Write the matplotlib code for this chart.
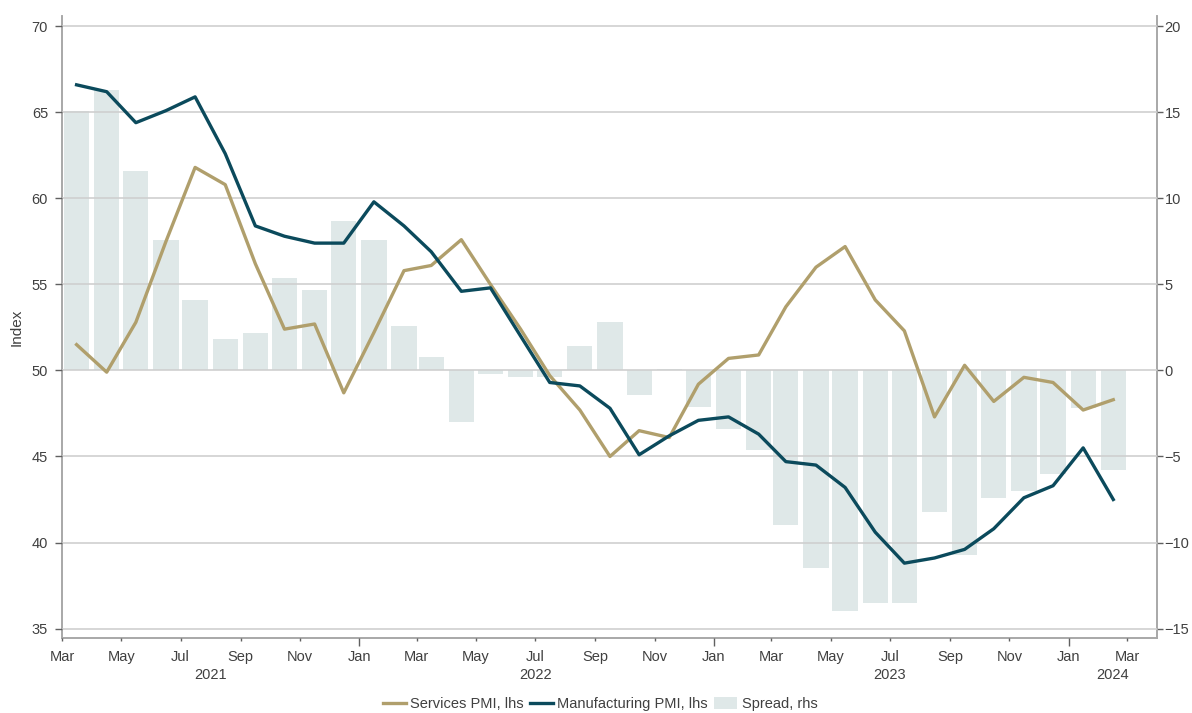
import pandas as pd
import numpy as np
import matplotlib
matplotlib.use("Agg")
import matplotlib.pyplot as plt
import matplotlib.dates as mdates
import matplotlib.transforms as mtransforms

plt.rcParams['font.family'] = ['Liberation Sans', 'DejaVu Sans']

# === DATA (monthly, Mar 2021 - Feb 2024) ===
months = pd.date_range("2021-03-01", "2024-02-01", freq="MS")

services_pmi = [51.5, 49.9, 52.8, 57.5, 61.8, 60.8, 56.2, 52.4, 52.7, 48.7,
                52.2, 55.8, 56.1, 57.6, 55.0, 52.4, 49.7, 47.7, 45.0, 46.5,
                46.1, 49.2, 50.7, 50.9, 53.7, 56.0, 57.2, 54.1, 52.3, 47.3,
                50.3, 48.2, 49.6, 49.3, 47.7, 48.3]

manufacturing_pmi = [66.6, 66.2, 64.4, 65.1, 65.9, 62.6, 58.4, 57.8, 57.4, 57.4,
                     59.8, 58.4, 56.9, 54.6, 54.8, 52.0, 49.3, 49.1, 47.8, 45.1,
                     46.2, 47.1, 47.3, 46.3, 44.7, 44.5, 43.2, 40.6, 38.8, 39.1,
                     39.6, 40.8, 42.6, 43.3, 45.5, 42.5]

spread = [15.1, 16.3, 11.6, 7.6, 4.1, 1.8, 2.2, 5.4, 4.7, 8.7,
          7.6, 2.6, 0.8, -3.0, -0.2, -0.4, -0.4, 1.4, 2.8, -1.4,
          0.1, -2.1, -3.4, -4.6, -9.0, -11.5, -14.0, -13.5, -13.5, -8.2,
          -10.7, -7.4, -7.0, -6.0, -2.2, -5.8]

# points sit mid-month
x = months + pd.Timedelta(days=15)

# === STYLE ===
c_serv = "#B09F6C"
c_manu = "#0B4A5C"
c_bar = "#DFE8E8"
c_text = "#404040"
c_spine = "#A8A8A8"
c_grid = "#CFCFCF"

fig = plt.figure(figsize=(11.92, 7.13), dpi=100)
ax = fig.add_axes([62/1192, 1-638/713, (1157-62)/1192, (638-16)/713])
ax2 = ax.twinx()

# bars on right axis, behind
ax2.bar(x, spread, width=26, color=c_bar, zorder=1, label="Spread, rhs")
ax.set_zorder(ax2.get_zorder() + 1)
ax.patch.set_visible(False)

ax.plot(x, services_pmi, color=c_serv, lw=2.4, zorder=3, label="Services PMI, lhs")
ax.plot(x, manufacturing_pmi, color=c_manu, lw=2.4, zorder=3, label="Manufacturing PMI, lhs")

# axes limits
ax.set_ylim(34.45, 70.6)
ax2.set_ylim(-15.55, 20.6)
ax.set_xlim(pd.Timestamp("2021-03-01"), pd.Timestamp("2024-04-01"))

ax.set_yticks(np.arange(35, 71, 5))
ax2.set_yticks(np.arange(-15, 21, 5))
ax.yaxis.grid(True, color=c_grid, lw=1.2, zorder=2)
ax.set_axisbelow(False)
for gl in ax.get_ygridlines():
    gl.set_zorder(2)

# x ticks: labels every 2 months, long tick at Jan
tick_dates = pd.date_range("2021-03-01", "2024-03-01", freq="2MS")
ax.set_xticks(tick_dates)
ax.set_xticklabels([d.strftime("%b") for d in tick_dates])
ax.tick_params(axis="x", length=2.5, width=1, color="#606060", colors=c_text,
               labelsize=10.5, pad=6)
for t, d in zip(ax.xaxis.get_major_ticks(), tick_dates):
    if d.month == 1:
        t.tick1line.set_markersize(6)

ax.tick_params(axis="y", length=5, width=1, color="#606060", colors=c_text, labelsize=10.5, pad=5)
ax2.tick_params(axis="y", length=4, width=1, color="#606060", colors=c_text, labelsize=10.5, pad=1.5)

for a in (ax, ax2):
    a.spines["top"].set_visible(False)
    for s in ("left", "right", "bottom"):
        a.spines[s].set_color(c_spine)
        a.spines[s].set_linewidth(1.2)

ax.set_ylabel("Index", color=c_text, fontsize=11, labelpad=6)

# year labels under the months
trans = mtransforms.blended_transform_factory(ax.transData, fig.transFigure)
years = ["2021", "2022", "2023", "2024"]
year_pos = [pd.Timestamp("2021-08-01"), pd.Timestamp("2022-07-01"),
            pd.Timestamp("2023-07-01"), pd.Timestamp("2024-02-15")]
for yl, yp in zip(years, year_pos):
    ax.text(mdates.date2num(yp), 1 - 675/713, yl, transform=trans, ha="center",
            va="center", fontsize=10.5, color=c_text)

# legend
h1, l1 = ax.get_legend_handles_labels()
h2, l2 = ax2.get_legend_handles_labels()
fig.legend(h1 + h2, l1 + l2, loc="center", bbox_to_anchor=(600/1192, 1 - 704/713),
           ncol=3, frameon=False, fontsize=10.5, labelcolor=c_text,
           handlelength=1.6, handletextpad=0.3, columnspacing=0.4,
           handleheight=0.8)

fig.savefig("out.png", dpi=100)
